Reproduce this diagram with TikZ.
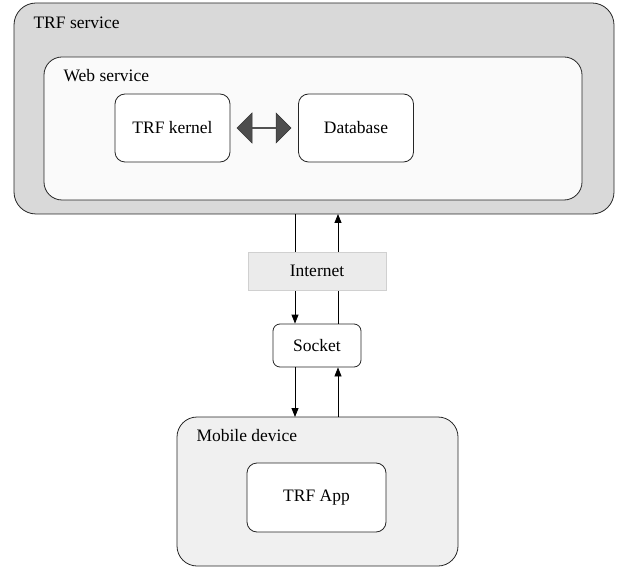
\documentclass[tikz,border=0pt]{standalone}
\usepackage{fontspec}
\setmainfont{Liberation Serif}
\usetikzlibrary{arrows.meta,shapes.arrows}
\definecolor{outergrey}{HTML}{D9D9D9}
\definecolor{innerwhite}{HTML}{FAFAFA}
\definecolor{netgrey}{HTML}{EBEBEB}
\definecolor{netedge}{HTML}{D0D0D0}
\definecolor{mobgrey}{HTML}{F0F0F0}
\definecolor{darkarrow}{HTML}{4D4D4D}
\begin{document}
\begin{tikzpicture}[x=1pt,y=-1pt,
  font=\fontsize{17.5}{20}\selectfont,
  container/.style={draw=black!85,line width=0.8pt,rounded corners=#1},
  box/.style={draw=black!85,line width=0.8pt,fill=white,rounded corners=10pt,
    minimum width=115pt,minimum height=68pt,inner sep=0pt},
  flow/.style={line width=0.8pt,-{Triangle[length=9pt,width=7pt]}},
  plain/.style={line width=0.8pt}]
\useasboundingbox (0,0) rectangle (626,569);
% TRF service container
\draw[container=22pt,fill=outergrey] (14,3) rectangle (614,214);
\node[anchor=west] at (30,23) {TRF service};
% Web service container
\draw[container=18pt,fill=innerwhite] (44,57) rectangle (582,200);
\node[anchor=west] at (60,76) {Web service};
% Kernel and database
\node[box] (kernel) at (172.5,128) {TRF kernel};
\node[box] (db) at (356,128) {Database};
\node[double arrow,fill=darkarrow,draw=black!80,line width=0.5pt,
  minimum width=30pt,double arrow head extend=7pt,minimum height=54pt,
  inner sep=0pt] (link) at (264,128) {};
% Mobile device container
\node[draw=black!85,line width=0.8pt,fill=mobgrey,rounded corners=20pt,
  minimum width=281pt,minimum height=149pt,inner sep=0pt] (mobile) at (317.5,491.5) {};
\node[anchor=west] at (193,436) {Mobile device};
\node[box,minimum width=139pt,minimum height=69pt] (app) at (316.5,497.5) {TRF App};
% Transport path
\coordinate (svcL) at (295,214);
\coordinate (svcR) at (338,214);
\coordinate (mobL) at (295,417);
\coordinate (mobR) at (338,417);
\node[draw=black!85,line width=0.8pt,fill=white,rounded corners=7pt,
  minimum width=88pt,minimum height=43pt,inner sep=0pt] (socket) at (317,345.5) {Socket};
% upward path (behind the Internet box)
\draw[flow] (mobR) -- (socket.south -| mobR);
\draw[flow] (socket.north -| mobR) -- (svcR);
% downward path
\draw[flow] (svcL) -- (socket.north -| svcL);
\draw[flow] (socket.south -| svcL) -- (mobL);
\node[draw=netedge,line width=0.8pt,fill=netgrey,minimum width=138pt,
  minimum height=38pt,inner sep=0pt] (internet) at (317,271) {Internet};
\end{tikzpicture}
\end{document}
